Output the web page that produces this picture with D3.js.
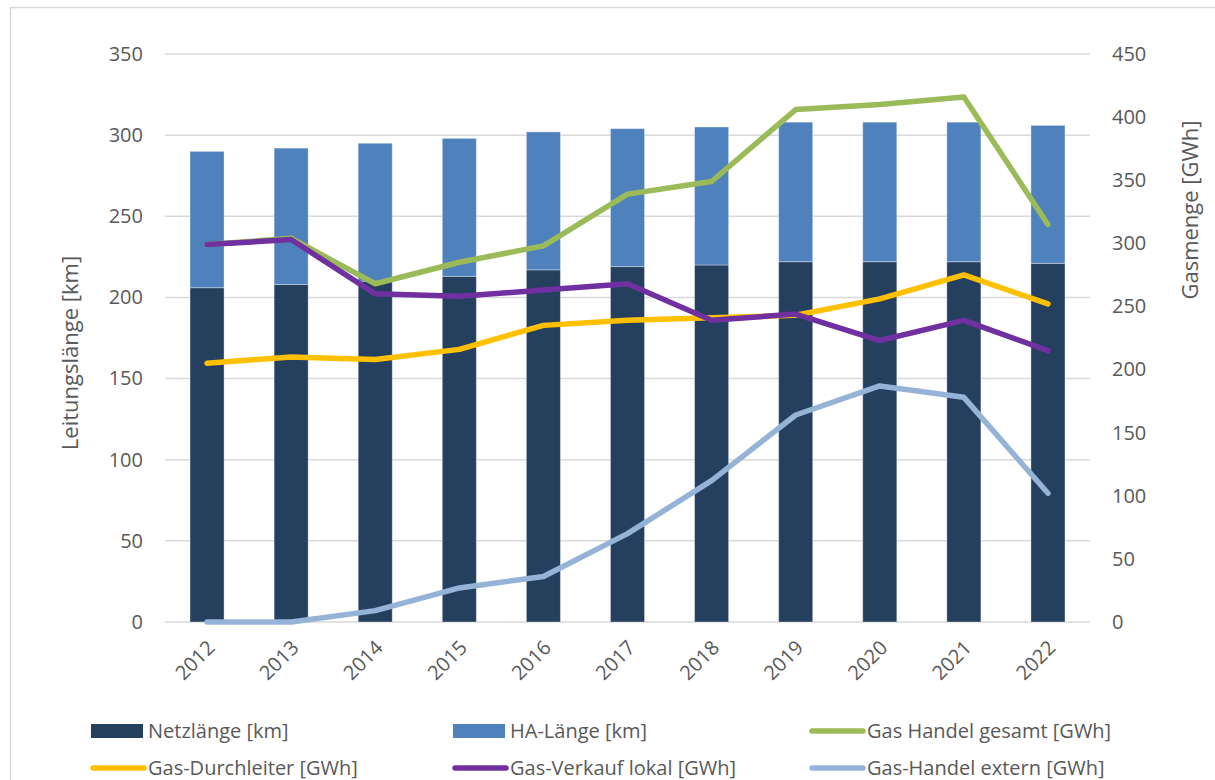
<!DOCTYPE html>
<html>
<head lang="de">
    <meta charset="UTF-8">
    <title>Netz und Gasmenge</title>
    <script src="https://cdn.jsdelivr.net/npm/d3@7/dist/d3.min.js"></script>
    <style>
        body { margin: 0; background: #fff; }
        text { font-family: "Open Sans", sans-serif; fill: #595959; }
    </style>
</head>
<body>
<div id="chart"></div>
<script>
    // Daten
    var years = ["2012", "2013", "2014", "2015", "2016", "2017", "2018", "2019", "2020", "2021", "2022"];
    var netzLaenge = [206, 208, 210, 213, 217, 219, 220, 222, 222, 222, 221];
    var haLaenge = [84, 84, 85, 85, 85, 85, 85, 86, 86, 86, 85];
    var handelGesamt = [299, 304, 268, 285, 298, 339, 349, 406, 410, 416, 315];
    var durchleiter = [205, 210, 208, 216, 235, 239, 241, 243, 256, 275, 252];
    var verkaufLokal = [299, 303, 260, 258, 263, 268, 239, 244, 223, 239, 215];
    var handelExtern = [0, 0, 9, 27, 36, 70, 112, 164, 187, 178, 102];
    var leftTicks = [0, 50, 100, 150, 200, 250, 300, 350];
    var rightTicks = [0, 50, 100, 150, 200, 250, 300, 350, 400, 450];

    var W = 1215, H = 780;
    var plot = {left: 165, right: 1090, top: 54, bottom: 622};

    var svg = d3.select("#chart").append("svg")
            .attr("width", W)
            .attr("height", H);

    // Rahmen
    svg.append("rect")
            .attr("x", 10.5).attr("y", 7.5)
            .attr("width", W + 20).attr("height", H + 20)
            .attr("fill", "none")
            .attr("stroke", "#d9d9d9")
            .attr("stroke-width", 1.5);

    var x = d3.scaleBand().domain(years).range([plot.left, plot.right]).paddingInner(0.595).paddingOuter(0.2975);
    var yL = d3.scaleLinear().domain([0, 350]).range([plot.bottom, plot.top]);
    var yR = d3.scaleLinear().domain([0, 450]).range([plot.bottom, plot.top]);

    // Gitter
    svg.append("g").selectAll("line").data(leftTicks).enter().append("line")
            .attr("x1", plot.left).attr("x2", plot.right)
            .attr("y1", function(d){ return yL(d); })
            .attr("y2", function(d){ return yL(d); })
            .attr("stroke", "#d9d9d9")
            .attr("stroke-width", 1.5);

    // Achsen
    var axL = svg.append("g")
            .attr("transform", "translate(143,0)")
            .call(d3.axisLeft(yL).tickValues(leftTicks).tickSize(0).tickPadding(0));
    var axR = svg.append("g")
            .attr("transform", "translate(1112,0)")
            .call(d3.axisRight(yR).tickValues(rightTicks).tickSize(0).tickPadding(0));
    [axL, axR].forEach(function(ax){
        ax.select(".domain").remove();
        ax.selectAll("text").attr("font-size", 20).attr("font-family", "Open Sans").attr("fill", "#595959");
    });

    var axX = svg.append("g")
            .attr("transform", "translate(0," + plot.bottom + ")")
            .call(d3.axisBottom(x).tickSize(0).tickPadding(0));
    axX.select(".domain").remove();
    axX.selectAll("text")
            .attr("font-size", 20)
            .attr("font-family", "Open Sans")
            .attr("fill", "#595959")
            .attr("text-anchor", "end")
            .attr("transform", "translate(4,22) rotate(-45)")
            .attr("dy", "0.35em")
            .attr("y", 0);

    // Balken
    var stack = years.map(function(y, i){
        return {year: y, netz: netzLaenge[i], ha: haLaenge[i]};
    });
    var bars = svg.append("g");
    bars.selectAll("rect.netz").data(stack).enter().append("rect")
            .attr("class", "netz")
            .attr("x", function(d){ return x(d.year); })
            .attr("width", x.bandwidth())
            .attr("y", function(d){ return yL(d.netz); })
            .attr("height", function(d){ return yL(0) - yL(d.netz); })
            .attr("fill", "#253F5F")
            .attr("stroke", "rgba(255,255,255,0.35)");
    bars.selectAll("rect.ha").data(stack).enter().append("rect")
            .attr("class", "ha")
            .attr("x", function(d){ return x(d.year); })
            .attr("width", x.bandwidth())
            .attr("y", function(d){ return yL(d.netz + d.ha); })
            .attr("height", function(d){ return yL(d.netz) - yL(d.netz + d.ha); })
            .attr("fill", "#4F81BD")
            .attr("stroke", "rgba(255,255,255,0.35)");

    // Linien
    var lines = [
        {name: "Gas Handel gesamt [GWh]", values: handelGesamt, color: "#9BBB59"},
        {name: "Gas-Durchleiter [GWh]", values: durchleiter, color: "#FFC000"},
        {name: "Gas-Verkauf lokal [GWh]", values: verkaufLokal, color: "#7030A0"},
        {name: "Gas-Handel extern [GWh]", values: handelExtern, color: "#95B3D7"}
    ];
    var line = d3.line()
            .x(function(d, i){ return x(years[i]) + x.bandwidth() / 2; })
            .y(function(d){ return yR(d); });
    svg.append("g").selectAll("path").data(lines).enter().append("path")
            .attr("d", function(d){ return line(d.values); })
            .attr("fill", "none")
            .attr("stroke", function(d){ return d.color; })
            .attr("stroke-width", 5.5)
            .attr("stroke-linejoin", "round")
            .attr("stroke-linecap", "round");

    // Legende
    var legend = [
        {name: "Netzlänge [km]", color: "#253F5F", type: "bar"},
        {name: "HA-Länge [km]", color: "#4F81BD", type: "bar"},
        {name: "Gas Handel gesamt [GWh]", color: "#9BBB59", type: "line"},
        {name: "Gas-Durchleiter [GWh]", color: "#FFC000", type: "line"},
        {name: "Gas-Verkauf lokal [GWh]", color: "#7030A0", type: "line"},
        {name: "Gas-Handel extern [GWh]", color: "#95B3D7", type: "line"}
    ];
    var colX = [91, 453, 810], rowY = [731, 768];
    var lg = svg.append("g").selectAll("g").data(legend).enter().append("g")
            .attr("transform", function(d, i){
                return "translate(" + colX[i % 3] + "," + rowY[Math.floor(i / 3)] + ")";
            });
    lg.each(function(d){
        var g = d3.select(this);
        if (d.type === "bar") {
            g.append("rect").attr("x", 0).attr("y", -7).attr("width", 52).attr("height", 14).attr("fill", d.color);
        } else {
            g.append("line").attr("x1", 2).attr("x2", 53).attr("y1", 0).attr("y2", 0)
                    .attr("stroke", d.color).attr("stroke-width", 5.5).attr("stroke-linecap", "round");
        }
        g.append("text").attr("x", 57).attr("y", 0).attr("dy", "0.35em")
                .attr("font-size", 20).text(d.name);
    });

    // Achsentitel
    svg.append("text")
            .attr("transform", "translate(70,353) rotate(-90)")
            .attr("text-anchor", "middle")
            .attr("dy", "0.35em")
            .attr("font-size", 22)
            .text("Leitungslänge [km]");
    svg.append("text")
            .attr("transform", "translate(1190,210) rotate(-90)")
            .attr("text-anchor", "middle")
            .attr("dy", "0.35em")
            .attr("font-size", 22)
            .text("Gasmenge [GWh]");
</script>
</body>
</html>
